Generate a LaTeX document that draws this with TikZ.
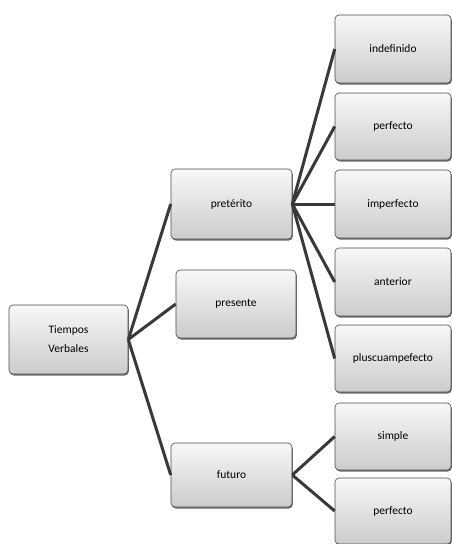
\documentclass[tikz,border=0pt]{standalone}
\usepackage{fontspec}
\setmainfont{Carlito}
\usetikzlibrary{shadows}
\begin{document}
\begin{tikzpicture}[x=1pt,y=-1pt,
  box/.style={draw=gray!60!black, line width=0.6pt, rounded corners=4pt,
    top color=gray!6, bottom color=gray!40, drop shadow={shadow xshift=0.8pt, shadow yshift=-1.5pt, fill=gray!70!black, opacity=0.9},
    inner sep=0pt, font=\fontsize{11.5}{19}\selectfont, align=center},
  conn/.style={draw=gray!45!black, line width=3pt}]
\useasboundingbox (0,0) rectangle (452,544);
\newcommand{\mybox}[6]{\node[box, minimum width=#4-#2, minimum height=#5-#3] (#1) at ({(#2+#4)/2},{(#3+#5)/2}) {#6};}
\mybox{tv}{9}{305}{128}{374}{Tiempos\\Verbales}
\mybox{pret}{171}{169}{292}{239}{pretérito}
\mybox{pres}{176}{270}{296}{338}{presente}
\mybox{fut}{171}{443}{292}{507}{futuro}
\mybox{indef}{335}{15}{451}{83}{indefinido}
\mybox{perf}{335}{93}{451}{160}{perfecto}
\mybox{imperf}{335}{170}{451}{238}{imperfecto}
\mybox{ant}{335}{248}{451}{316}{anterior}
\mybox{plus}{335}{325}{451}{392}{pluscuampefecto}
\mybox{simp}{335}{403}{451}{470}{simple}
\mybox{perf2}{335}{478}{451}{544}{perfecto}
\draw[conn] (tv.east) -- (pret.west);
\draw[conn] (tv.east) -- (pres.west);
\draw[conn] (tv.east) -- (fut.west);
\foreach \t in {indef,perf,imperf,ant,plus}
  \draw[conn] (pret.east) -- (\t.west);
\draw[conn] (fut.east) -- (simp.west);
\draw[conn] (fut.east) -- (perf2.west);
\end{tikzpicture}
\end{document}
